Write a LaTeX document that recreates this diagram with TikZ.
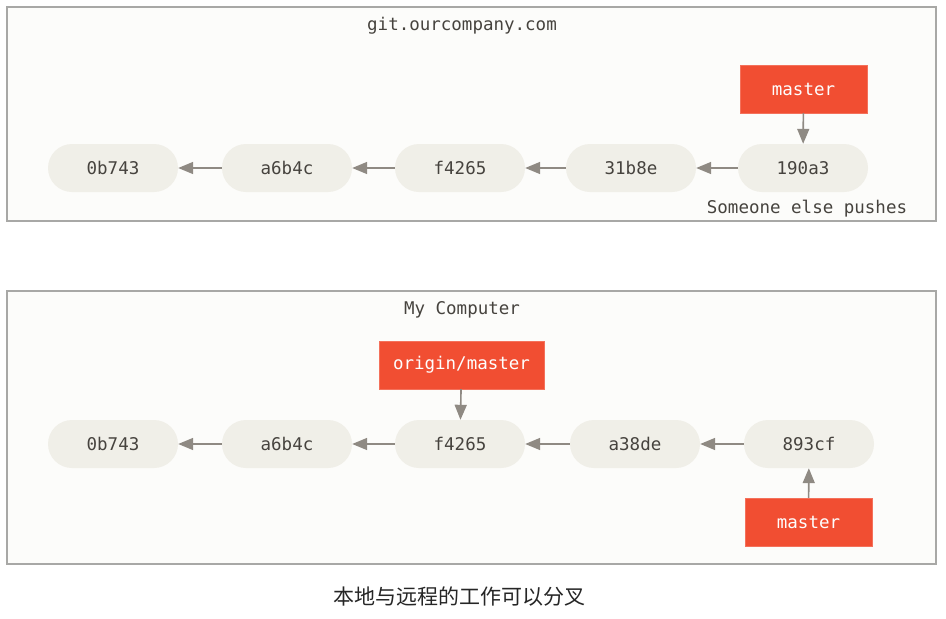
\documentclass[tikz,border=0pt]{standalone}
\usepackage{fontspec}
\setmonofont{DejaVu Sans Mono}
\newfontfamily\cjk{Noto Sans CJK SC}
\usepackage{tikz}
\usetikzlibrary{arrows.meta}
\usepackage{xcolor}
\definecolor{ColCommit}{RGB}{240,239,232}
\definecolor{ColText}{RGB}{70,67,62}
\definecolor{ColBranch}{RGB}{241,78,50}
\definecolor{ColEdge}{RGB}{143,138,131}
\definecolor{ColFrame}{RGB}{168,168,166}
\definecolor{ColBack}{RGB}{252,252,250}
\tikzstyle{AreaBox}=[draw=ColFrame,fill=ColBack,line width=1.5pt]
\tikzstyle{NodeCommit}=[rectangle,rounded corners=24pt,fill=ColCommit,text=ColText,
minimum width=130pt,minimum height=48pt,inner sep=0pt,font=\ttfamily\fontsize{17.5}{20}\selectfont]
\tikzstyle{NodeBranch}=[rectangle,fill=ColBranch,draw=ColBranch!80!white,text=white!95!ColCommit,
minimum height=48pt,inner sep=0pt,font=\ttfamily\fontsize{17.5}{20}\selectfont]
\tikzstyle{NodeLabel}=[text=ColText,inner sep=0pt,font=\ttfamily\fontsize{17.5}{20}\selectfont]
\tikzstyle{EdgeParent}=[ColEdge,line width=1.6pt,-{Triangle[length=15pt,width=12pt]}]
\begin{document}
\begin{tikzpicture}[x=1pt,y=-1pt]
        \useasboundingbox[fill=white](0,0)rectangle(946,619);
        % remote repository
        \draw[AreaBox](7,7)rectangle(936,221);
        \node[NodeLabel](remote)at(462,26){git.ourcompany.com};
        \node[NodeCommit](ra)at(113,168){0b743};
        \node[NodeCommit](rb)at(287,168){a6b4c};
        \node[NodeCommit](rc)at(460,168){f4265};
        \node[NodeCommit](rd)at(631,168){31b8e};
        \node[NodeCommit](re)at(803,168){190a3};
        \node[NodeBranch,minimum width=127pt](rmaster)at(803.5,89){master};
        \node[NodeLabel](push)at(807,209){Someone else pushes};
        \draw[EdgeParent](rb)--(ra);
        \draw[EdgeParent](rc)--(rb);
        \draw[EdgeParent](rd)--(rc);
        \draw[EdgeParent](re)--(rd);
        \draw[EdgeParent](rmaster)--(re);
        % local repository
        \draw[AreaBox](7,291)rectangle(936,564);
        \node[NodeLabel](local)at(462,310){My Computer};
        \node[NodeCommit](la)at(113,444){0b743};
        \node[NodeCommit](lb)at(287,444){a6b4c};
        \node[NodeCommit](lc)at(460,444){f4265};
        \node[NodeCommit](ld)at(635,444){a38de};
        \node[NodeCommit](le)at(809,444){893cf};
        \node[NodeBranch,minimum width=165pt](origin)at(461.5,365){origin/master};
        \node[NodeBranch,minimum width=127pt](lmaster)at(808.5,522){master};
        \draw[EdgeParent](lb)--(la);
        \draw[EdgeParent](lc)--(lb);
        \draw[EdgeParent](ld)--(lc);
        \draw[EdgeParent](le)--(ld);
        \draw[EdgeParent](origin)--(lc);
        \draw[EdgeParent](lmaster)--(le);
        % caption
        \node[inner sep=0pt,text=black!85,font=\cjk\fontsize{21}{24}\selectfont](caption)at(459,597){本地与远程的工作可以分叉};
    \end{tikzpicture}
\end{document}
